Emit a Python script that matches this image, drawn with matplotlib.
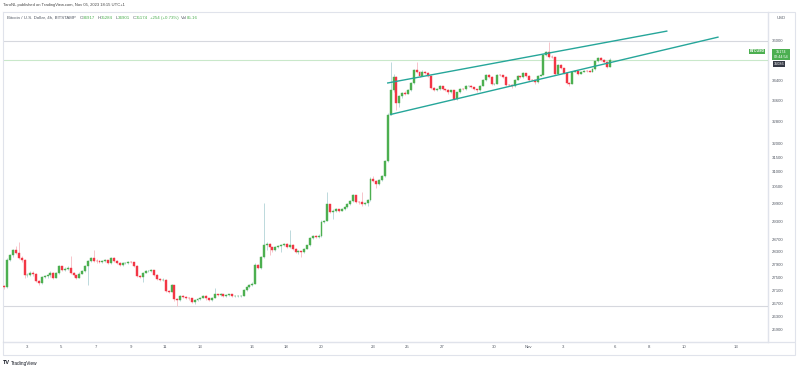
"""
BTCUSD 4h (Bitstamp) con canal ascendente, estilo captura de TradingView.
"""

import matplotlib

matplotlib.use("Agg")
import matplotlib.dates as mdates
import matplotlib.pyplot as plt
import numpy as np
import pandas as pd
from matplotlib.patches import Rectangle

W, H = 800, 370

# ---------------------------------------------------------------------------
# Datos: velas de 4h desde el 1 de octubre 17:00 (UTC+1)
# ---------------------------------------------------------------------------
INICIO = "2023-10-01 17:00"
APERTURA_0 = 27220

CIERRES = [
    27190, 28050, 28187, 28348, 28263, 28105, 28051, 27560, 27581, 27634,
    27590, 27386, 27324, 27510, 27528, 27560, 27634, 27488, 27634, 27840,
    27715, 27768, 27800, 27634, 27560, 27488, 27612, 27697, 27840, 28010,
    28105, 28020, 27998, 27979, 28020, 28030, 27948, 28120, 28010, 27948,
    27872, 27948, 27957, 27979, 27975, 27853, 27541, 27510, 27644, 27684,
    27697, 27715, 27581, 27457, 27405, 27426, 27068, 27050, 27251, 26823,
    26793, 26930, 26899, 26869, 26844, 26744, 26793, 26823, 26869, 26930,
    26844, 26793, 26869, 26969, 26948, 26969, 26930, 26939, 26969, 26918,
    26918, 26930, 26930, 27098, 27201, 27251, 27303, 27894, 27790, 28137,
    28531, 28563, 28457, 28348, 28457, 28489, 28531, 28563, 28457, 28531,
    28402, 28295, 28316, 28295, 28402, 28508, 28749, 28813, 28781, 28832,
    29294, 29327, 29881, 29622, 29656, 29713, 29656, 29713, 29770, 29881,
    29993, 30186, 29959, 29938, 29881, 29905, 30026, 30736, 30678, 30563,
    30712, 30837, 31378, 33076, 33996, 34516, 33517, 33767, 33896, 33869,
    33996, 34281, 34800, 34734, 34567, 34734, 34672, 34567, 34088, 34023,
    34050, 34150, 34050, 34023, 33919, 33996, 33668, 33919, 34050, 34040,
    34150, 34177, 34127, 34050, 33996, 34177, 34409, 34604, 34516, 34254,
    34254, 34604, 34590, 34516, 34215, 34200, 34150, 34409, 34540, 34516,
    34672, 34567, 34409, 34400, 34304, 34567, 34604, 35394, 35525, 35327,
    35303, 34645, 35000, 34864, 34672, 34281, 34254, 34734, 34773, 34645,
    34734, 34761, 34755, 34734, 34830, 35150, 35285, 35195, 35131, 34917,
    35174,
]

MAXIMOS = [
    27260, 28090, 28230, 28400, 28480, 28617, 28160, 28080, 27640, 27690,
    27680, 27620, 27420, 27540, 27580, 27610, 27680, 27660, 27670, 27880,
    27860, 27810, 27850, 28170, 27660, 27580, 27650, 27730, 27870, 28050,
    28150, 28348, 28060, 28030, 28050, 28070, 28050, 28150, 28140, 28030,
    27970, 27980, 27990, 28010, 28000, 27990, 27870, 27570, 27670, 27720,
    27730, 27750, 27730, 27600, 27480, 27460, 27440, 27100, 27290, 27270,
    26850, 26960, 26950, 26920, 26890, 26860, 26820, 26850, 26900, 26960,
    26950, 26860, 26900, 27150, 26990, 27000, 26990, 26970, 26990, 26980,
    26950, 26950, 26960, 27130, 27240, 27290, 27340, 27940, 27910, 28180,
    29930, 28620, 28600, 28470, 28490, 28530, 28570, 28600, 28590, 29030,
    28560, 28420, 28350, 28340, 28430, 28540, 28790, 28850, 28850, 28870,
    29330, 29360, 30300, 29900, 29700, 29750, 29730, 29750, 29800, 29910,
    30030, 30230, 30200, 29990, 30290, 29940, 30060, 30800, 30850, 30700,
    30750, 30880, 31420, 33150, 35131, 34650, 34560, 33820, 33950, 33960,
    34040, 34320, 34850, 35131, 34760, 34780, 34760, 34700, 34590, 34110,
    34090, 34190, 34170, 34070, 34040, 34030, 34010, 33950, 34080, 34080,
    34190, 34220, 34200, 34140, 34070, 34210, 34450, 34650, 34630, 34540,
    34290, 34640, 34640, 34610, 34540, 34250, 34230, 34440, 34580, 34570,
    34710, 34690, 34590, 34440, 34420, 34600, 34640, 35430, 35570, 35931,
    35400, 35320, 35040, 35020, 34890, 34700, 34310, 34770, 34810, 34790,
    34770, 34790, 34790, 34780, 34860, 35190, 35320, 35300, 35220, 35150,
    35284,
]

MINIMOS = [
    27120, 27170, 28010, 28150, 28220, 28060, 27990, 27480, 27500, 27540,
    27540, 27340, 27260, 27290, 27470, 27490, 27520, 27440, 27470, 27600,
    27680, 27690, 27740, 27600, 27510, 27440, 27470, 27590, 27670, 27250,
    27980, 27990, 27960, 27950, 27960, 27990, 27920, 27930, 27980, 27910,
    27840, 27850, 27920, 27930, 27940, 27820, 27500, 27470, 27355, 27620,
    27660, 27670, 27550, 27420, 27370, 27380, 27030, 27000, 27030, 26780,
    26624, 26770, 26860, 26830, 26800, 26710, 26663, 26770, 26800, 26850,
    26810, 26760, 26780, 26850, 26910, 26920, 26900, 26900, 26920, 26890,
    26890, 26900, 26880, 26920, 27070, 27180, 27220, 27290, 27750, 27770,
    28100, 28350, 28200, 28300, 28320, 28430, 28300, 28500, 28420, 28440,
    28370, 28250, 28240, 28150, 28270, 28380, 28480, 28720, 28740, 28760,
    28800, 29250, 29300, 29580, 29380, 29620, 29620, 29630, 29690, 29740,
    29860, 29960, 29920, 29900, 29820, 29850, 29800, 30000, 30640, 30420,
    30540, 30690, 30800, 31350, 33050, 33950, 33263, 33380, 33720, 33830,
    33840, 33960, 34250, 34680, 34520, 34540, 34620, 34520, 34040, 33960,
    33990, 34020, 34010, 33980, 33870, 33890, 33620, 33640, 33890, 34000,
    34020, 34120, 34090, 34010, 33950, 33980, 34150, 34380, 34480, 34210,
    34200, 34230, 34550, 34480, 34170, 34150, 34100, 34130, 34390, 34480,
    34490, 34530, 34370, 34360, 34260, 34290, 34540, 34580, 35370, 35290,
    35260, 34600, 34620, 34830, 34630, 34240, 34150, 34240, 34700, 34610,
    34630, 34710, 34720, 34700, 34720, 34810, 35130, 35160, 35090, 34880,
    34901,
]

# Eje de precios (escala logarítmica, etiquetas tal como las muestra TV)
PRECIOS_EJE = [36000, 34400, 33600, 32800, 32000, 31500, 31000, 30500, 29900,
               29300, 28700, 28300, 27900, 27500, 27100, 26700, 26300, 25900]
PRECIO_MIN, PRECIO_MAX = 25549, 37163

# Eje temporal
FECHAS_ETIQUETA = ["2023-10-03", "2023-10-05", "2023-10-07", "2023-10-09",
                   "2023-10-11", "2023-10-13", "2023-10-16", "2023-10-18",
                   "2023-10-20", "2023-10-23", "2023-10-25", "2023-10-27",
                   "2023-10-30", "2023-11-01", "2023-11-03", "2023-11-06",
                   "2023-11-08", "2023-11-10", "2023-11-13"]
ETIQUETAS_FECHA = ["3", "5", "7", "9", "11", "13", "16", "18", "20", "23", "25",
                   "27", "30", "Nov", "3", "6", "8", "10", "13"]
X_MIN, X_MAX = "2023-10-01 15:00", "2023-11-14 20:30"

# Dibujos del autor: canal ascendente y dos líneas horizontales
CANAL_SUP_T = ["2023-10-23 20:00", "2023-11-09 01:00"]
CANAL_SUP_P = [34281, 36370]
CANAL_INF_T = ["2023-10-24 00:00", "2023-11-12 00:00"]
CANAL_INF_P = [33076, 36123]
HORIZONTALES = [35959, 26602]

PRECIO_ACTUAL = 35174
PRECIO_OTRO = 35086

# Leyenda OHLC de la cabecera
LEYENDA = [("O", "34917"), ("H", "35284"), ("L", "34901"), ("C", "35174"),
           ("", "+254 (+0.73%)"), ("Vol", "85.16")]

VERDE = "#4caf50"
ROJO = "#f23645"
MECHA_VERDE = "#bcd9dc"
MECHA_ROJA = "#f7c4ca"
TEAL = "#26a69a"
GRIS_TEXTO = "#555b66"
BORDE = "#e0e3eb"

plt.rcParams["font.family"] = ["Liberation Sans", "DejaVu Sans"]


def fx(px):
    return px / W


def fy(py):
    return 1 - py / H


def texto_seguido(fig, x_px, y_px, piezas, tam):
    """Escribe trozos de texto uno detrás de otro, midiendo cada uno."""
    rend = fig.canvas.get_renderer()
    x = x_px
    for texto, color, hueco in piezas:
        if texto:
            t = fig.text(fx(x), fy(y_px), texto, fontsize=tam, color=color, va="center")
            x += t.get_window_extent(rend).width
        x += hueco


def graficar():
    fig = plt.figure(figsize=(W / 100, H / 100), dpi=100)
    fig.patch.set_facecolor("white")

    izq, der, arriba, abajo = 2.9, 768, 12, 342
    ax = fig.add_axes([fx(izq), fy(abajo), fx(der - izq), (abajo - arriba) / H])

    tiempos = pd.date_range(INICIO, periods=len(CIERRES), freq="4h")
    x = mdates.date2num(tiempos.to_pydatetime())
    cierres = np.array(CIERRES, dtype=float)
    aperturas = np.r_[APERTURA_0, cierres[:-1]]
    sube = cierres >= aperturas

    # mechas (pálidas, como en la captura)
    ax.vlines(x, MINIMOS, MAXIMOS,
              colors=np.where(sube, MECHA_VERDE, MECHA_ROJA), lw=0.7, zorder=2)
    # cuerpos
    ancho = 4 / 24 * 0.68
    base = np.minimum(aperturas, cierres)
    alto = np.abs(cierres - aperturas)
    colores = np.where(sube, VERDE, ROJO)
    ax.bar(x, alto, bottom=base, width=ancho, color=colores,
           edgecolor=colores, linewidth=0.3, zorder=3)

    # canal
    for t, p in ((CANAL_SUP_T, CANAL_SUP_P), (CANAL_INF_T, CANAL_INF_P)):
        ax.plot(mdates.date2num(pd.to_datetime(t).to_pydatetime()), p,
                color=TEAL, lw=1.0, zorder=4, solid_capstyle="butt")

    for p in HORIZONTALES:
        ax.axhline(p, color="#d6d8de", lw=0.8, zorder=1)
    ax.axhline(PRECIO_ACTUAL, color="#c9e8ca", lw=0.8, zorder=1)

    ax.set_yscale("log")
    ax.set_ylim(PRECIO_MIN, PRECIO_MAX)
    ax.set_xlim(mdates.date2num(pd.Timestamp(X_MIN)), mdates.date2num(pd.Timestamp(X_MAX)))

    ax.yaxis.tick_right()
    ax.yaxis.set_minor_locator(matplotlib.ticker.NullLocator())
    ax.set_yticks(PRECIOS_EJE)
    ax.set_yticklabels([str(p) for p in PRECIOS_EJE])
    ax.tick_params(axis="y", length=0, pad=3, labelsize=3.1, labelcolor=GRIS_TEXTO)

    ax.set_xticks(mdates.date2num(pd.to_datetime(FECHAS_ETIQUETA).to_pydatetime()))
    ax.set_xticklabels(ETIQUETAS_FECHA)
    ax.tick_params(axis="x", length=0, pad=2.5, labelsize=3.1, labelcolor=GRIS_TEXTO)

    for s in ax.spines.values():
        s.set_color(BORDE)
        s.set_linewidth(0.8)
    ax.spines["right"].set_color("#b2b5be")
    ax.spines["bottom"].set_color("#b2b5be")

    # marco del panel de precios y del eje de tiempo
    fig.add_artist(Rectangle((fx(der), fy(abajo)), fx(795 - der), (abajo - arriba) / H,
                             transform=fig.transFigure, fill=False, ec=BORDE, lw=0.8))
    fig.add_artist(Rectangle((fx(izq), fy(355)), fx(795 - izq), 13 / H,
                             transform=fig.transFigure, fill=False, ec=BORDE, lw=0.8))
    fig.text(fx(781), fy(18), "USD", fontsize=3.1, color=GRIS_TEXTO, ha="center", va="center")

    # etiquetas de precio actual
    fig.text(fx(757), fy(51.5), "BTCUSD", fontsize=2.6, color="white", ha="center",
             va="center", fontweight="bold",
             bbox=dict(boxstyle="square,pad=0.25", fc=VERDE, ec="none"))
    fig.text(fx(781), fy(54.5), f"{PRECIO_ACTUAL}\n02:44:54", fontsize=2.7, color="white",
             ha="center", va="center", linespacing=1.3,
             bbox=dict(boxstyle="square,pad=0.35", fc=VERDE, ec="none"))
    fig.text(fx(779), fy(64), str(PRECIO_OTRO), fontsize=2.7, color="white", ha="center",
             va="center", bbox=dict(boxstyle="square,pad=0.2", fc="#363a45", ec="none"))

    # cabeceras
    fig.text(fx(3), fy(5), "TaroNL published on TradingView.com, Nov 05, 2023 18:15 UTC+1",
             fontsize=3.0, color="#444", va="center")
    piezas = [("Bitcoin / U.S. Dollar, 4h, BITSTAMP", GRIS_TEXTO, 3.5)]
    for letra, valor in LEYENDA:
        piezas.append((letra, GRIS_TEXTO, 0))
        piezas.append((valor, VERDE, 2.5))
    texto_seguido(fig, 7, 18, piezas, 3.2)

    fig.text(fx(3), fy(363), "TV", fontsize=4, color="#131722", fontweight="bold", va="center")
    fig.text(fx(10.5), fy(363), "TradingView", fontsize=3.4, color="#131722", va="center")
    return fig


def main():
    fig = graficar()
    fig.savefig("out.png", dpi=100)
    plt.close(fig)


if __name__ == "__main__":
    main()
